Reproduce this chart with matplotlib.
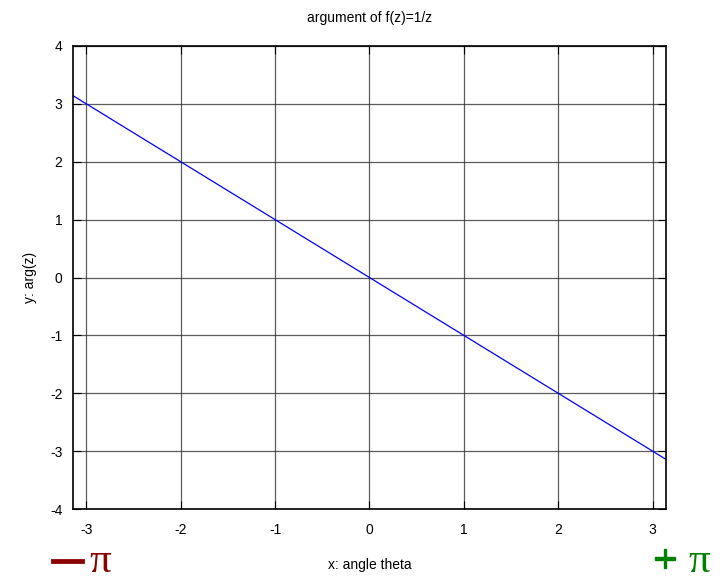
import matplotlib
matplotlib.use('Agg')
import matplotlib.pyplot as plt
import matplotlib.patheffects as pe


theta = [-3.1416, 3.1416]
arg_z = [3.1416, -3.1416]
x_ticks = [-3, -2, -1, 0, 1, 2, 3]
y_ticks = [-4, -3, -2, -1, 0, 1, 2, 3, 4]


def main():
    plt.rcParams['font.family'] = ['Liberation Sans', 'DejaVu Sans']
    plt.rcParams['axes.unicode_minus'] = False
    fig = plt.figure(figsize=(7.27, 5.8), dpi=100)
    ax = fig.add_axes([0.1004, 0.1224, 0.8156, 0.7983])

    ax.plot(theta, arg_z, color='#0000ff', lw=0.9)
    ax.set_xlim(-3.1416, 3.1416)
    ax.set_ylim(-4, 4)
    ax.set_xticks(x_ticks)
    ax.set_yticks(y_ticks)
    ax.grid(True, color='#333333', lw=0.9, alpha=0.8)
    ax.tick_params(direction='in', top=True, right=True, length=6,
                   labelsize=10)
    ax.tick_params(axis='x', pad=10)
    ax.tick_params(axis='y', pad=7.5)
    for s in ax.spines.values():
        s.set_linewidth(1.2)

    ax.set_title("argument of f(z)=1/z", fontsize=10, pad=17)
    ax.set_xlabel("x: angle theta", fontsize=10, labelpad=15)
    ax.set_ylabel("y: arg(z)", fontsize=10, labelpad=9.5)

    serif = ['Liberation Serif', 'DejaVu Serif']
    red, green = '#8b0000', '#008000'
    thick = dict(capstyle='butt', joinstyle='miter')
    fig.text(67.5 / 727, 0.0207, "\u2014", color=red, fontsize=22,
             fontweight='bold', family=serif, ha='center', va='baseline',
             path_effects=[pe.withStroke(linewidth=2, foreground=red, **thick)])
    fig.text(100.5 / 727, 0.0138, "\u03c0", color=red, fontsize=31,
             family=serif, ha='center', va='baseline')
    fig.text(665 / 727, 0.013, "+", color=green, fontsize=30,
             fontweight='bold', family=serif, ha='center', va='baseline',
             path_effects=[pe.withStroke(linewidth=1, foreground=green, **thick)])
    fig.text(699 / 727, 0.0138, "\u03c0", color=green, fontsize=31,
             family=serif, ha='center', va='baseline')

    fig.savefig('out.png', dpi=100)


if __name__ == '__main__':
    main()
